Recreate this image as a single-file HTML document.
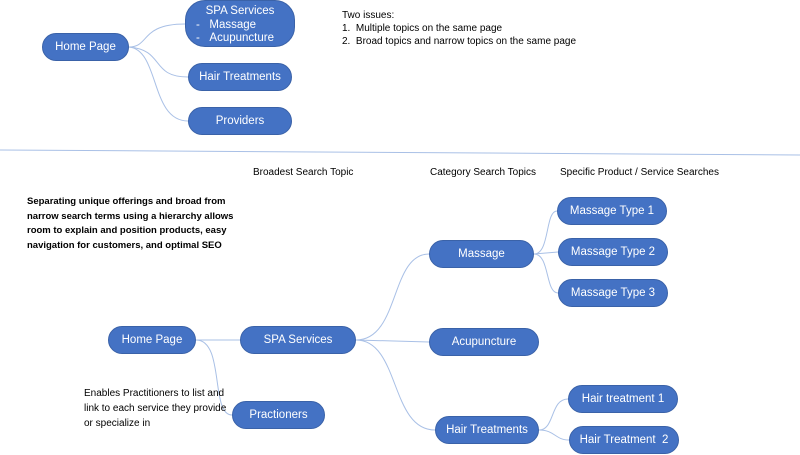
<!DOCTYPE html>
<html><head><meta charset="utf-8"><style>
body{margin:0;width:800px;height:455px;background:#fff;position:relative;overflow:hidden;font-family:"Liberation Sans",Arial,sans-serif}
.n{position:absolute;background:#4472c4;border:1px solid #3a62a8;color:#fff;border-radius:15px;display:flex;align-items:center;justify-content:center;font-size:11.5px;box-sizing:border-box}
.t{position:absolute;font-size:10px;color:#000;line-height:13px}
</style></head><body>
<svg width="800" height="455" style="position:absolute;left:0;top:0">
<g fill="none" stroke="#a9c0e6" stroke-width="1">
<path d="M129 47 C150 47,140 24,185 24"/>
<path d="M129 47 C165 50,150 77,188 77"/>
<path d="M129 47 C160 50,150 121,188 121"/>
<path d="M0 150 L800 155"/>
<path d="M196 340 L240 340"/>
<path d="M196 340 C225 340,210 415,232 415"/>
<path d="M356 340 C400 340,390 254,429 254"/>
<path d="M356 340 L429 342"/>
<path d="M356 340 C400 340,390 430,435 430"/>
<path d="M534 254 C550 254,545 211,557 211"/>
<path d="M534 254 L558 252"/>
<path d="M534 254 C550 254,545 293,558 293"/>
<path d="M539 430 C555 430,550 399,568 399"/>
<path d="M539 430 C555 430,555 440,569 440"/>
</g></svg>
<div class="n" style="left:42px;top:33px;width:87px;height:28px">Home Page</div>
<div class="n" style="left:185px;top:0;width:110px;height:47px;border-radius:20px;display:block;text-align:left;padding:4px 0 0 10px;line-height:13.5px;font-size:11.5px">&nbsp;&nbsp;&nbsp;SPA Services<br>-&nbsp;&nbsp;&nbsp;Massage<br>-&nbsp;&nbsp;&nbsp;Acupuncture</div>
<div class="n" style="left:188px;top:63px;width:104px;height:28px">Hair Treatments</div>
<div class="n" style="left:188px;top:107px;width:104px;height:28px">Providers</div>
<div class="t" style="left:342px;top:9px">Two issues:<br>1.&nbsp;&nbsp;Multiple topics on the same page<br>2.&nbsp;&nbsp;Broad topics and narrow topics on the same page</div>
<div class="t" style="left:253px;top:166px">Broadest Search Topic</div>
<div class="t" style="left:430px;top:166px">Category Search Topics</div>
<div class="t" style="left:560px;top:166px">Specific Product / Service Searches</div>
<div class="t" style="left:27px;top:195px;font-weight:bold;width:210px;line-height:14.5px;font-size:9.5px">Separating unique offerings and broad from narrow search terms using a hierarchy allows room to explain and position products, easy navigation for customers, and optimal SEO</div>
<div class="t" style="left:84px;top:386px;width:150px;line-height:15px">Enables Practitioners to list and link to each service they provide or specialize in</div>
<div class="n" style="left:108px;top:326px;width:88px;height:28px">Home Page</div>
<div class="n" style="left:240px;top:326px;width:116px;height:28px">SPA Services</div>
<div class="n" style="left:232px;top:401px;width:93px;height:28px">Practioners</div>
<div class="n" style="left:429px;top:240px;width:105px;height:28px">Massage</div>
<div class="n" style="left:429px;top:328px;width:110px;height:28px">Acupuncture</div>
<div class="n" style="left:435px;top:416px;width:104px;height:28px">Hair Treatments</div>
<div class="n" style="left:557px;top:197px;width:110px;height:28px">Massage Type 1</div>
<div class="n" style="left:558px;top:238px;width:110px;height:28px">Massage Type 2</div>
<div class="n" style="left:558px;top:279px;width:110px;height:28px">Massage Type 3</div>
<div class="n" style="left:568px;top:385px;width:110px;height:28px">Hair treatment 1</div>
<div class="n" style="left:569px;top:426px;width:110px;height:28px">Hair Treatment&nbsp;&nbsp;2</div>
</body></html>
